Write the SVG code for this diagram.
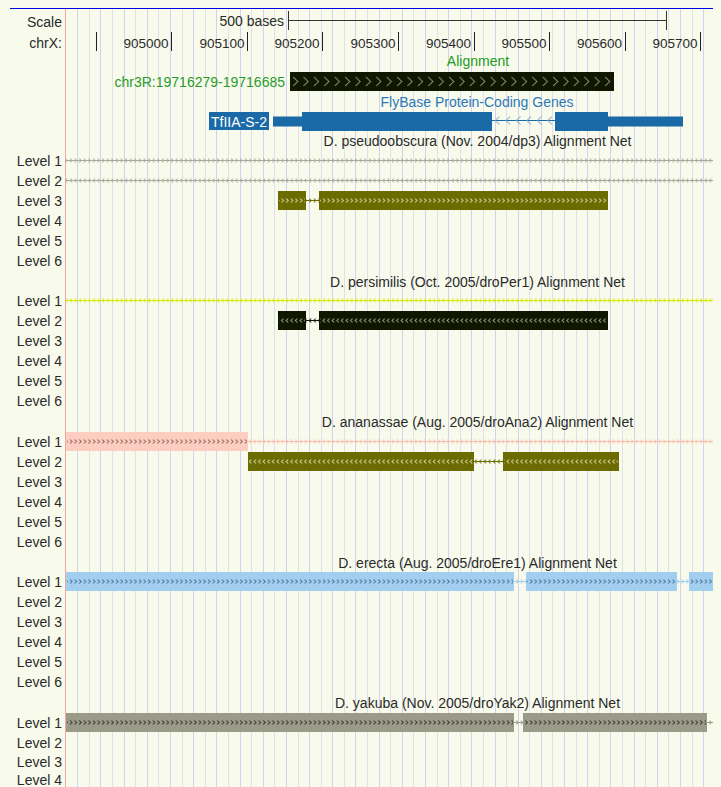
<svg xmlns="http://www.w3.org/2000/svg" width="721" height="787" viewBox="0 0 721 787">
<style>
text{font-family:"Liberation Sans",Arial,sans-serif;font-size:14px;fill:#2a2a2a}
.lab{text-anchor:end}
.num{font-size:13.5px;text-anchor:end}
.ttl{text-anchor:middle}
.olive{fill:#6b6b00}
.blk{fill:#101700}
.pink{fill:#fccdc0}
.blue{fill:#a2cff0}
.gray{fill:#9b9b8a}
.gene{fill:#1a6aa8}
</style>
<defs>
<pattern id="lnGrayR" width="4.6" height="19" patternUnits="userSpaceOnUse"><path d="M0 9.5H4.6M1 7.5L3 9.5L1 11.5" stroke="#a9a99c" fill="none"/></pattern>
<pattern id="lnGrayL" width="4.6" height="19" patternUnits="userSpaceOnUse"><path d="M0 9.5H4.6M3 7.5L1 9.5L3 11.5" stroke="#a9a99c" fill="none"/></pattern>
<pattern id="lnYelL" width="4.6" height="19" patternUnits="userSpaceOnUse"><path d="M0 9.5H4.6M3 7.5L1 9.5L3 11.5" stroke="#d6ea10" fill="none"/></pattern>
<pattern id="lnPinkR" width="4.6" height="19" patternUnits="userSpaceOnUse"><path d="M0 9.5H4.6M1 7.5L3 9.5L1 11.5" stroke="#fdbcae" fill="none"/></pattern>
<pattern id="lnOliveR" width="4.6" height="19" patternUnits="userSpaceOnUse"><path d="M0 9.5H4.6M1 7.5L3 9.5L1 11.5" stroke="#6b6b00" fill="none"/></pattern>
<pattern id="lnOliveL" width="4.6" height="19" patternUnits="userSpaceOnUse"><path d="M0 9.5H4.6M3 7.5L1 9.5L3 11.5" stroke="#6b6b00" fill="none"/></pattern>
<pattern id="lnBlackL" width="4.6" height="19" patternUnits="userSpaceOnUse"><path d="M0 9.5H4.6M3 7.5L1 9.5L3 11.5" stroke="#101700" fill="none"/></pattern>
<pattern id="lnBlueR" width="4.6" height="19" patternUnits="userSpaceOnUse"><path d="M0 9.5H4.6M1 7.5L3 9.5L1 11.5" stroke="#a2cff0" fill="none"/></pattern>
<pattern id="lnGrayDR" width="4.6" height="19" patternUnits="userSpaceOnUse"><path d="M0 9.5H4.6M1 7.5L3 9.5L1 11.5" stroke="#9b9b8a" fill="none"/></pattern>
<pattern id="cRlight" width="4.6" height="19" patternUnits="userSpaceOnUse"><path d="M1 7.5L3 9.5L1 11.5" stroke="#dcdcb0" fill="none"/></pattern>
<pattern id="cLlight" width="4.6" height="19" patternUnits="userSpaceOnUse"><path d="M3 7.5L1 9.5L3 11.5" stroke="#dcdcb0" fill="none"/></pattern>
<pattern id="cLgray" width="4.6" height="19" patternUnits="userSpaceOnUse"><path d="M3 7.5L1 9.5L3 11.5" stroke="#a8a8a0" fill="none"/></pattern>
<pattern id="cRpink" width="4.6" height="19" patternUnits="userSpaceOnUse"><path d="M1 7.5L3 9.5L1 11.5" stroke="#8a5a52" fill="none"/></pattern>
<pattern id="cRblue" width="4.6" height="19" patternUnits="userSpaceOnUse"><path d="M1 7.5L3 9.5L1 11.5" stroke="#44688c" fill="none"/></pattern>
<pattern id="cRdark" width="4.6" height="19" patternUnits="userSpaceOnUse"><path d="M1 7.5L3 9.5L1 11.5" stroke="#2c2c24" fill="none"/></pattern>
<pattern id="alnCv" width="10.4" height="19" patternUnits="userSpaceOnUse"><path d="M2 5L6.5 9.5L2 14" stroke="#9a9a94" fill="none"/></pattern>
<pattern id="intronCv" width="10.5" height="19" patternUnits="userSpaceOnUse"><path d="M0 9.5H10.5" stroke="#1a6aa8" fill="none"/><path d="M6 5.5L2 9.5L6 13.5" stroke="#7aa4cc" fill="none"/></pattern>
</defs>
<rect width="721" height="787" fill="#f8fbec"/>
<g id="grid">
<path stroke="#d2d2f0" fill="none" d="M77.5 9V787M100.5 9V787M124.5 9V787M147.5 9V787M170.5 9V787M193.5 9V787M216.5 9V787M240.5 9V787M263.5 9V787M286.5 9V787M309.5 9V787M332.5 9V787M355.5 9V787M379.5 9V787M402.5 9V787M425.5 9V787M448.5 9V787M471.5 9V787M495.5 9V787M518.5 9V787M541.5 9V787M564.5 9V787M587.5 9V787M610.5 9V787M634.5 9V787M657.5 9V787M680.5 9V787M703.5 9V787"/>
<path stroke="#e0e0e8" fill="none" d="M89.5 9V787M112.5 9V787M135.5 9V787M158.5 9V787M182.5 9V787M205.5 9V787M228.5 9V787M251.5 9V787M274.5 9V787M298.5 9V787M321.5 9V787M344.5 9V787M367.5 9V787M390.5 9V787M413.5 9V787M437.5 9V787M460.5 9V787M483.5 9V787M506.5 9V787M529.5 9V787M552.5 9V787M576.5 9V787M599.5 9V787M622.5 9V787M645.5 9V787M668.5 9V787M692.5 9V787"/>
<path stroke="#f0a8a0" d="M65.5 9V787"/>
<path stroke="#0000e0" d="M10 8.5H713"/>
</g>
<g id="ruler">
<text class="lab" x="62" y="26.5">Scale</text>
<text class="lab" x="62" y="48">chrX:</text>
<text class="lab" x="284" y="25.5">500 bases</text>
<path stroke="#333" fill="none" d="M288.5 20.5H666.5M288.5 11V30M666.5 11V30"/>
<path stroke="#222" fill="none" d="M96.5 32V51M171.5 32V51M247.5 32V51M322.5 32V51M398.5 32V51M474.5 32V51M549.5 32V51M625.5 32V51M700.5 32V51"/>
<text class="num" x="168.5" y="48">905000</text>
<text class="num" x="244.5" y="48">905100</text>
<text class="num" x="319.5" y="48">905200</text>
<text class="num" x="395.5" y="48">905300</text>
<text class="num" x="471" y="48">905400</text>
<text class="num" x="546.5" y="48">905500</text>
<text class="num" x="622" y="48">905600</text>
<text class="num" x="697.5" y="48">905700</text>
</g>
<g id="alignment">
<text class="ttl" x="478" y="66" style="fill:#229a22">Alignment</text>
<text class="lab" x="285" y="87" style="fill:#2a9a2a">chr3R:19716279-19716685</text>
<g transform="translate(0,72)">
<rect x="290" y="0" width="324" height="19" class="blk"/>
<rect x="291" y="0" width="322" height="19" fill="url(#alnCv)"/>
</g>
</g>
<g id="flybase">
<text class="ttl" x="477" y="106.5" style="fill:#2e78b8">FlyBase Protein-Coding Genes</text>
<rect x="209" y="112" width="60" height="18" class="gene"/>
<text class="ttl" x="239" y="126.5" style="fill:#ffffff">TfIIA-S-2</text>
<rect x="273" y="116.5" width="29" height="10" class="gene"/>
<rect x="302" y="112" width="190" height="19" class="gene"/>
<g transform="translate(0,111)"><rect x="492" y="0" width="63" height="19" fill="url(#intronCv)"/></g>
<rect x="555" y="112" width="53" height="19" class="gene"/>
<rect x="608" y="116.5" width="75" height="10" class="gene"/>
</g>
<g id="net-dp3">
<text class="ttl" x="477.5" y="146">D. pseudoobscura (Nov. 2004/dp3) Alignment Net</text>
<text class="lab" x="62" y="166">Level 1</text>
<text class="lab" x="62" y="186">Level 2</text>
<text class="lab" x="62" y="206">Level 3</text>
<text class="lab" x="62" y="226">Level 4</text>
<text class="lab" x="62" y="246">Level 5</text>
<text class="lab" x="62" y="266">Level 6</text>
<g transform="translate(0,151)"><rect x="66" width="647" height="19" fill="url(#lnGrayR)"/></g>
<g transform="translate(0,171)"><rect x="66" width="647" height="19" fill="url(#lnGrayL)"/></g>
<g transform="translate(0,191)">
<rect x="306" width="13" height="19" fill="url(#lnOliveR)"/>
<rect x="278" width="28" height="19" class="olive"/>
<rect x="319" width="289" height="19" class="olive"/>
<rect x="279" width="26" height="19" fill="url(#cRlight)"/>
<rect x="320" width="287" height="19" fill="url(#cRlight)"/>
</g>
</g>
<g id="net-droPer1">
<text class="ttl" x="477.5" y="286.5">D. persimilis (Oct. 2005/droPer1) Alignment Net</text>
<text class="lab" x="62" y="306">Level 1</text>
<text class="lab" x="62" y="326">Level 2</text>
<text class="lab" x="62" y="346">Level 3</text>
<text class="lab" x="62" y="366">Level 4</text>
<text class="lab" x="62" y="386">Level 5</text>
<text class="lab" x="62" y="406">Level 6</text>
<g transform="translate(0,291)"><rect x="66" width="647" height="19" fill="url(#lnYelL)"/></g>
<g transform="translate(0,311)">
<rect x="306" width="13" height="19" fill="url(#lnBlackL)"/>
<rect x="278" width="28" height="19" class="blk"/>
<rect x="319" width="289" height="19" class="blk"/>
<rect x="279" width="26" height="19" fill="url(#cLgray)"/>
<rect x="320" width="287" height="19" fill="url(#cLgray)"/>
</g>
</g>
<g id="net-droAna2">
<text class="ttl" x="477.5" y="427">D. ananassae (Aug. 2005/droAna2) Alignment Net</text>
<text class="lab" x="62" y="447">Level 1</text>
<text class="lab" x="62" y="467">Level 2</text>
<text class="lab" x="62" y="487">Level 3</text>
<text class="lab" x="62" y="507">Level 4</text>
<text class="lab" x="62" y="527">Level 5</text>
<text class="lab" x="62" y="547">Level 6</text>
<g transform="translate(0,432)">
<rect x="248" width="465" height="19" fill="url(#lnPinkR)"/>
<rect x="66" width="182" height="19" class="pink"/>
<rect x="67" width="180" height="19" fill="url(#cRpink)"/>
</g>
<g transform="translate(0,452)">
<rect x="474" width="29" height="19" fill="url(#lnOliveL)"/>
<rect x="248" width="226" height="19" class="olive"/>
<rect x="503" width="116" height="19" class="olive"/>
<rect x="249" width="224" height="19" fill="url(#cLlight)"/>
<rect x="504" width="114" height="19" fill="url(#cLlight)"/>
</g>
</g>
<g id="net-droEre1">
<text class="ttl" x="477.5" y="567.5">D. erecta (Aug. 2005/droEre1) Alignment Net</text>
<text class="lab" x="62" y="587">Level 1</text>
<text class="lab" x="62" y="607">Level 2</text>
<text class="lab" x="62" y="627">Level 3</text>
<text class="lab" x="62" y="647">Level 4</text>
<text class="lab" x="62" y="667">Level 5</text>
<text class="lab" x="62" y="687">Level 6</text>
<g transform="translate(0,572)">
<rect x="514" width="12" height="19" fill="url(#lnBlueR)"/>
<rect x="677" width="12" height="19" fill="url(#lnBlueR)"/>
<rect x="66" width="448" height="19" class="blue"/>
<rect x="526" width="151" height="19" class="blue"/>
<rect x="689" width="24" height="19" class="blue"/>
<rect x="67" width="446" height="19" fill="url(#cRblue)"/>
<rect x="527" width="149" height="19" fill="url(#cRblue)"/>
<rect x="690" width="22" height="19" fill="url(#cRblue)"/>
</g>
</g>
<g id="net-droYak2">
<text class="ttl" x="477.5" y="708">D. yakuba (Nov. 2005/droYak2) Alignment Net</text>
<text class="lab" x="62" y="728">Level 1</text>
<text class="lab" x="62" y="748">Level 2</text>
<text class="lab" x="62" y="767">Level 3</text>
<text class="lab" x="62" y="785">Level 4</text>
<g transform="translate(0,713)">
<rect x="514" width="9" height="19" fill="url(#lnGrayDR)"/>
<rect x="707" width="6" height="19" fill="url(#lnGrayDR)"/>
<rect x="66" width="448" height="19" class="gray"/>
<rect x="523" width="184" height="19" class="gray"/>
<rect x="67" width="446" height="19" fill="url(#cRdark)"/>
<rect x="524" width="182" height="19" fill="url(#cRdark)"/>
</g>
</g>
</svg>
